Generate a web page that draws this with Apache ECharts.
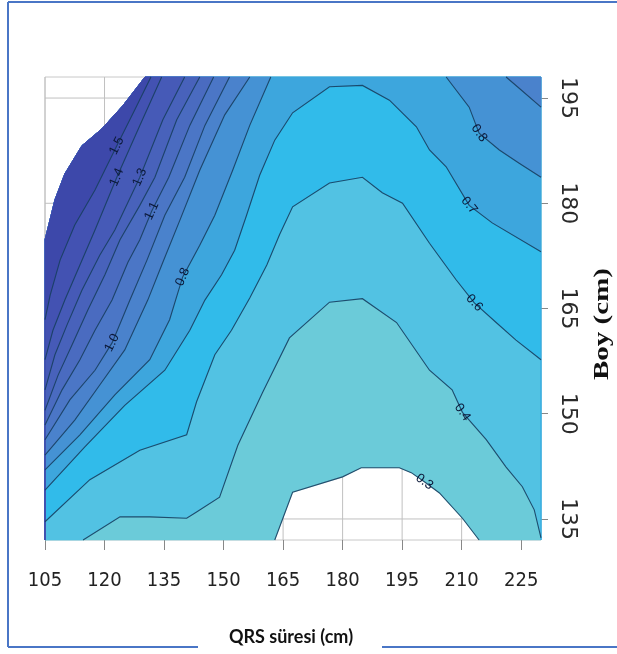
<!DOCTYPE html>
<html><head><meta charset="utf-8">
<script src="https://cdn.jsdelivr.net/npm/echarts@6/dist/echarts.min.js"></script>
<style>html,body{margin:0;padding:0;background:#fff}#c{width:617px;height:654px}</style>
</head><body><div id="c"></div>
<script>
// ---- axis data ----
const xTicks = [105,120,135,150,165,180,195,210,225];
const yTicks = [135,150,165,180,195];
const xRange = [105,230];
const yRange = [132,198];

// ---- contour lines (QRS, Boy) ----
const whiteEdge = [[105,174.8],[107.5,180.5],[110,184.2],[114.3,188.2],[119.3,190.6],[124.6,193.9],[130.2,198]];
const line15 = [[105,163.4],[106.3,166.9],[108.8,171.9],[112.5,176.9],[117.6,181.9],[123.1,188.2],[127.6,193.3],[131.7,198]];
const line14 = [[105,157.7],[107,161.9],[110,166.2],[113.8,171.2],[117.6,176.2],[123.1,183.7],[128.9,191.1],[134.4,198]];
const line13 = [[105,153.4],[107.5,158.4],[110.5,162.6],[114.3,167.6],[118.8,172.6],[122.6,176.2],[128.9,183.7],[134.7,191.9],[140.2,198]];
const line12 = [[105,150.5],[108.3,155.5],[111.8,159.8],[115.8,164.8],[120.1,169.8],[123.9,174.8],[128.9,179.7],[132.7,183.7],[138.2,191.9],[144,198]];
const line11 = [[105,148.4],[109.3,153.4],[113.8,157.7],[117.6,161.9],[121.9,166.2],[125.9,171.6],[128.9,174.8],[131.9,178.9],[136.2,183.7],[141.5,191.1],[147.5,198]];
const line10 = [[105,146.3],[111.3,152],[117.6,156.2],[121.9,160.1],[126.4,166.2],[130.7,171.9],[135.2,178.3],[140.2,183.7],[145.3,191.1],[151.5,198]];
const line09 = [[105,144.1],[112.5,149.1],[118.8,154.1],[125.1,159.1],[130.9,166.2],[134.7,171.6],[139,177.6],[144,184.7],[150.3,192.6],[156.6,198]];
const line08 = [[105,142],[113.8,147],[122.6,152.7],[131.4,157.7],[136.4,163.4],[139.7,169.5],[144,174],[147.8,178.3],[152.3,184.7],[156.6,191.1],[161.9,198]];
const line07 = [[105,139.1],[115.1,145.3],[125.1,151.2],[135.2,156.2],[141.5,161.9],[145.3,166.2],[149.5,169.8],[152.8,173.3],[155.8,178.3],[159.1,184],[162.9,189],[167.4,192.9],[176.7,196.6],[185,196.8],[191.8,194.7],[198.6,190.9],[201.9,187.6],[206.1,185.2],[211.9,179.7],[217.7,177.2],[230,173.1]];
const line06 = [[105,134.6],[116.3,140.6],[128.9,144.8],[140.7,147],[143.2,151.7],[147.8,158.4],[152,161.9],[156.6,166.5],[160.9,171.2],[164.1,175.5],[167.4,179.5],[176.7,182.9],[185,183.7],[190,181.5],[195.1,180],[201.9,174.3],[208.6,169.1],[213.2,165.8],[218.7,163],[223.7,160.5],[230,157.7]];
const line04 = [[114.6,132],[123.9,135.3],[131.4,135.3],[140.7,135.1],[143.2,136],[149,138.1],[153.6,145.5],[159.8,153],[166.6,160.8],[176.7,165.9],[185,166.4],[193.6,163],[201.9,156.2],[207.6,153.4],[210.2,150.2],[216.2,146.3],[221.2,142.4],[225.3,139.6],[228.3,136.3],[230,132.3]];
const line03 = [[162.9,132],[167.4,138.8],[180,141],[184.7,142.3],[194.3,142.3],[197.3,141.6],[200.6,140.3],[204.4,138.7],[210.2,135.1],[214.4,132]];
const right08 = [[206.1,198],[211.9,193.7],[214.4,190],[219.5,187.6],[224.5,185.7],[230,183.7]];
const right09 = [[221.2,198],[224.5,196.4],[230,193.7]];

// ---- bands: each level fills the region at or above its line ----
const bandLevels = ['0.3','0.4','0.6','0.7','0.8','0.9','1.0','1.1','1.2','1.3','1.4','1.5'];
const bandColors = ['#6BCBD9','#52C2E3','#31BBEA','#3DA6DD','#4592D4','#4A82CC','#4B76C6','#4A6BC0','#4862BB','#465AB7','#4352B2','#3D48AA'];
const bandLines = [
  [['arch',line03]],[['arch',line04]],[['arch',line06]],[['arch',line07]],
  [['left',line08],['right',right08]],[['left',line09],['right',right09]],
  [['left',line10]],[['left',line11]],[['left',line12]],[['left',line13]],[['left',line14]],[['left',line15]]
];
// contour labels: text, line, vertex index
const contourLabels = [
  ['1.5',line15,5],['1.4',line14,5],['1.3',line13,6],['1.1',line11,7],['1.0',line10,3],['0.8',line08,5],
  ['0.8',right08,2],['0.7',line07,18],['0.6',line06,17],['0.4',line04,14],['0.3',line03,6]
];

const X0 = xRange[0], X1 = xRange[1], Y0 = yRange[0], Y1 = yRange[1];
const whiteRev = whiteEdge.slice().reverse();
const polys = [];
bandLines.forEach((pieces, i) => {
  pieces.forEach(([kind, pts]) => {
    let ring;
    if (kind === 'arch') ring = pts.concat([[X1,Y0],[X1,Y1]], whiteRev, [[X0,Y0]]);
    else if (kind === 'left') ring = pts.concat(whiteRev, [[X0,Y0]]);
    else ring = pts.concat([[X1,Y1]]);
    polys.push({ring, color: bandColors[i]});
  });
});
const strokeLines = [line03,line04,line06,line07,line08,right08,line09,right09,line10,line11,line12,line13,line14,line15];

const chart = echarts.init(document.getElementById('c'), null, {renderer:'canvas'});
const narrowFont = '"Liberation Sans Narrow","Arial Narrow","DejaVu Sans Condensed",sans-serif';
chart.setOption({
  animation: false,
  backgroundColor: '#ffffff',
  grid: {left:45, right:76, top:77, bottom:114, show:true, borderColor:'#c8c8c8', borderWidth:1, backgroundColor:'transparent'},
  xAxis: {
    type:'value', min:X0, max:X1,
    axisLine:{show:false},
    axisTick:{show:true, customValues:xTicks, length:10, lineStyle:{color:'#888'}},
    axisLabel:{customValues:xTicks, margin:31, fontSize:20, fontFamily:narrowFont, color:'#222'},
    splitLine:{show:false}
  },
  yAxis: {
    type:'value', min:Y0, max:Y1, position:'right',
    axisLine:{show:false},
    axisTick:{show:true, customValues:yTicks, length:7, lineStyle:{color:'#888'}},
    axisLabel:{customValues:yTicks, rotate:-90, margin:16, fontSize:22, fontFamily:'"DejaVu Sans",sans-serif', color:'#2a2a2a'},
    splitLine:{show:false}
  },
  series: [
    { type:'custom', z:1, silent:true, coordinateSystem:'cartesian2d', encode:{x:0,y:1},
      data:[[X0,Y0]],
      renderItem:(params, api) => {
        const ch = [];
        xTicks.forEach(v => { const a = api.coord([v,Y0]), b = api.coord([v,Y1]);
          ch.push({type:'line', shape:{x1:a[0],y1:a[1],x2:b[0],y2:b[1]}, style:{stroke:'#c0c0c0', lineWidth:1}}); });
        yTicks.forEach(v => { const a = api.coord([X0,v]), b = api.coord([X1,v]);
          ch.push({type:'line', shape:{x1:a[0],y1:a[1],x2:b[0],y2:b[1]}, style:{stroke:'#c0c0c0', lineWidth:1}}); });
        return {type:'group', children:ch};
      }
    },
    { type:'custom', z:2, silent:true, coordinateSystem:'cartesian2d', encode:{x:0,y:1},
      data: polys.map((p,i)=>[X0,Y0,i]),
      renderItem:(params, api) => {
        const p = polys[params.dataIndex];
        return {type:'polygon', shape:{points:p.ring.map(v=>api.coord(v))}, style:{fill:p.color, stroke:p.color, lineWidth:0.5}};
      }
    },
    { type:'custom', z:3, silent:true, coordinateSystem:'cartesian2d', encode:{x:0,y:1},
      data: strokeLines.map((p,i)=>[X0,Y0,i]),
      renderItem:(params, api) => {
        const p = strokeLines[params.dataIndex];
        return {type:'polyline', shape:{points:p.map(v=>api.coord(v))}, style:{stroke:'#173f60', lineWidth:1.1, fill:null, opacity:0.9}};
      }
    },
    { type:'custom', z:4, silent:true, coordinateSystem:'cartesian2d', encode:{x:0,y:1},
      data: contourLabels.map((p,i)=>[X0,Y0,i]),
      renderItem:(params, api) => {
        const [txt, ln, k] = contourLabels[params.dataIndex];
        const c = api.coord(ln[k]);
        const a = api.coord(ln[Math.max(0,k-1)]), b = api.coord(ln[Math.min(ln.length-1,k+1)]);
        let ang = Math.atan2(-(b[1]-a[1]), b[0]-a[0]);
        if (ang > Math.PI/2) ang -= Math.PI; if (ang < -Math.PI/2) ang += Math.PI;
        return {type:'text', x:c[0], y:c[1], rotation:ang,
          style:{text:txt, fill:'#0b1838', font:'13px "Liberation Sans", Arial, sans-serif', align:'center', verticalAlign:'middle'}};
      }
    }
  ],
  graphic: [
    {type:'line', silent:true, shape:{x1:8,y1:2,x2:8,y2:647}, style:{stroke:'#4a76c6', lineWidth:2}},
    {type:'line', silent:true, shape:{x1:8,y1:2,x2:617,y2:2}, style:{stroke:'#4a76c6', lineWidth:2}},
    {type:'line', silent:true, shape:{x1:8,y1:647,x2:198,y2:647}, style:{stroke:'#4a76c6', lineWidth:2}},
    {type:'line', silent:true, shape:{x1:382,y1:647,x2:617,y2:647}, style:{stroke:'#4a76c6', lineWidth:2}},
    {type:'text', silent:true, x:291, y:637, style:{text:'QRS süresi (cm)', font:'bold 18px Lato, "Open Sans", sans-serif', fill:'#111', align:'center', verticalAlign:'middle'}},
    {type:'text', silent:true, x:603, y:324, rotation:Math.PI/2, scaleY:0.7, style:{text:'Boy (cm)', font:'bold 29px "Liberation Serif", serif', fill:'#111', align:'center', verticalAlign:'middle'}},
    {type:'text', silent:true, x:48, y:531, rotation:Math.PI/2, style:{text:'N', font:'9px "Liberation Sans"', fill:'#888', align:'center', verticalAlign:'middle'}}
  ]
});
</script></body></html>
